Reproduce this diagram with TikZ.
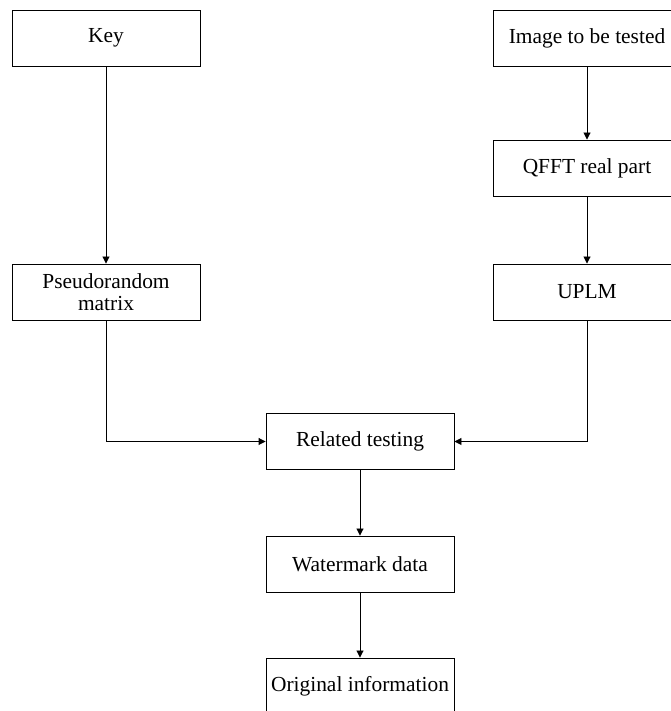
\documentclass[tikz,border=0pt]{standalone}
\usepackage{fontspec}
\setmainfont{Liberation Serif}
\usetikzlibrary{arrows.meta}
\begin{document}
\begin{tikzpicture}[x=1bp, y=1bp,
  stage/.style={shape=rectangle, draw=black, line width=0.9bp, minimum width=188bp, minimum height=56bp, inner sep=0pt, align=center, font=\fontsize{21.5}{22.5}\selectfont},
  flow/.style={-{Triangle[length=7bp,width=7bp]}, line width=0.9bp, draw=black}]
\useasboundingbox (0,0) rectangle (671,711);
\node[stage] (key) at (106,673) {Key};
\node[stage] (image) at (587,673) {Image to be tested};
\node[stage] (qfft) at (587,543) {QFFT real part};
\node[stage] (pseudo) at (106,419) {Pseudorandom\\matrix};
\node[stage] (uplm) at (587,419) {UPLM};
\node[stage] (related) at (360,269.5) {Related testing};
\node[stage] (watermark) at (360,147) {Watermark data};
\node[stage] (original) at (360,25) {Original information};
\path [flow] (key) edge (pseudo);
\path [flow] (image) edge (qfft);
\path [flow] (qfft) edge (uplm);
\draw [flow] (pseudo.south) |- (related.west);
\draw [flow] (uplm.south) |- (related.east);
\path [flow] (related) edge (watermark);
\path [flow] (watermark) edge (original);
\end{tikzpicture}
\end{document}
